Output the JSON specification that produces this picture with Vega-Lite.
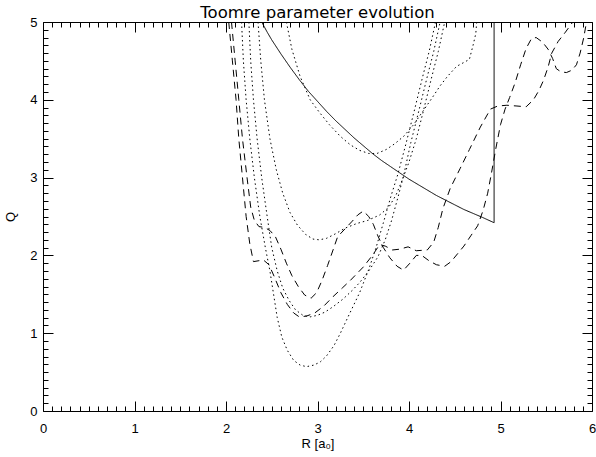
{
  "$schema": "https://vega.github.io/schema/vega-lite/v6.json",
  "width": 549,
  "height": 389,
  "autosize": {"type": "none"},
  "padding": {"left": 43, "top": 22, "right": 4, "bottom": 46},
  "background": "white",
  "title": {"text": "Toomre parameter evolution", "font": "DejaVu Sans", "fontSize": 16.5, "fontWeight": "normal", "color": "black", "anchor": "middle", "offset": -5},
  "config": {"view": {"stroke": null}},
  "data": {"values": [
    {"curve":"S","style":"solid","i":0,"x":2.39,"y":5.0},{"curve":"S","style":"solid","i":1,"x":2.45,"y":4.87},{"curve":"S","style":"solid","i":2,"x":2.5,"y":4.77},{"curve":"S","style":"solid","i":3,"x":2.6,"y":4.59},{"curve":"S","style":"solid","i":4,"x":2.7,"y":4.42},{"curve":"S","style":"solid","i":5,"x":2.8,"y":4.26},{"curve":"S","style":"solid","i":6,"x":2.9,"y":4.11},{"curve":"S","style":"solid","i":7,"x":3.0,"y":3.98},{"curve":"S","style":"solid","i":8,"x":3.1,"y":3.85},{"curve":"S","style":"solid","i":9,"x":3.2,"y":3.73},{"curve":"S","style":"solid","i":10,"x":3.3,"y":3.62},{"curve":"S","style":"solid","i":11,"x":3.4,"y":3.51},{"curve":"S","style":"solid","i":12,"x":3.5,"y":3.41},{"curve":"S","style":"solid","i":13,"x":3.6,"y":3.31},{"curve":"S","style":"solid","i":14,"x":3.7,"y":3.22},{"curve":"S","style":"solid","i":15,"x":3.8,"y":3.14},{"curve":"S","style":"solid","i":16,"x":3.9,"y":3.06},{"curve":"S","style":"solid","i":17,"x":4.0,"y":2.98},{"curve":"S","style":"solid","i":18,"x":4.1,"y":2.91},{"curve":"S","style":"solid","i":19,"x":4.2,"y":2.84},{"curve":"S","style":"solid","i":20,"x":4.3,"y":2.77},{"curve":"S","style":"solid","i":21,"x":4.4,"y":2.71},{"curve":"S","style":"solid","i":22,"x":4.5,"y":2.65},{"curve":"S","style":"solid","i":23,"x":4.6,"y":2.59},{"curve":"S","style":"solid","i":24,"x":4.7,"y":2.54},{"curve":"S","style":"solid","i":25,"x":4.8,"y":2.49},{"curve":"S","style":"solid","i":26,"x":4.93,"y":2.42},{"curve":"S","style":"solid","i":27,"x":4.93,"y":5.0},

    {"curve":"D1","style":"dotted","i":0,"x":2.17,"y":5.0},{"curve":"D1","style":"dotted","i":1,"x":2.19,"y":4.5},{"curve":"D1","style":"dotted","i":2,"x":2.22,"y":4.0},{"curve":"D1","style":"dotted","i":3,"x":2.26,"y":3.5},{"curve":"D1","style":"dotted","i":4,"x":2.31,"y":3.0},{"curve":"D1","style":"dotted","i":5,"x":2.37,"y":2.5},{"curve":"D1","style":"dotted","i":6,"x":2.43,"y":2.1},{"curve":"D1","style":"dotted","i":7,"x":2.48,"y":1.8},{"curve":"D1","style":"dotted","i":8,"x":2.52,"y":1.5},{"curve":"D1","style":"dotted","i":9,"x":2.56,"y":1.2},{"curve":"D1","style":"dotted","i":10,"x":2.61,"y":0.95},{"curve":"D1","style":"dotted","i":11,"x":2.67,"y":0.78},{"curve":"D1","style":"dotted","i":12,"x":2.74,"y":0.65},{"curve":"D1","style":"dotted","i":13,"x":2.81,"y":0.59},{"curve":"D1","style":"dotted","i":14,"x":2.88,"y":0.57},{"curve":"D1","style":"dotted","i":15,"x":2.96,"y":0.59},{"curve":"D1","style":"dotted","i":16,"x":3.03,"y":0.63},{"curve":"D1","style":"dotted","i":17,"x":3.1,"y":0.71},{"curve":"D1","style":"dotted","i":18,"x":3.18,"y":0.84},{"curve":"D1","style":"dotted","i":19,"x":3.25,"y":1.0},{"curve":"D1","style":"dotted","i":20,"x":3.35,"y":1.25},{"curve":"D1","style":"dotted","i":21,"x":3.46,"y":1.52},{"curve":"D1","style":"dotted","i":22,"x":3.56,"y":1.82},{"curve":"D1","style":"dotted","i":23,"x":3.64,"y":2.1},{"curve":"D1","style":"dotted","i":24,"x":3.72,"y":2.42},{"curve":"D1","style":"dotted","i":25,"x":3.8,"y":2.75},{"curve":"D1","style":"dotted","i":26,"x":3.88,"y":3.05},{"curve":"D1","style":"dotted","i":27,"x":3.97,"y":3.45},{"curve":"D1","style":"dotted","i":28,"x":4.06,"y":3.87},{"curve":"D1","style":"dotted","i":29,"x":4.15,"y":4.3},{"curve":"D1","style":"dotted","i":30,"x":4.22,"y":4.62},{"curve":"D1","style":"dotted","i":31,"x":4.29,"y":5.0},

    {"curve":"D4","style":"dotted","i":0,"x":2.25,"y":5.0},{"curve":"D4","style":"dotted","i":1,"x":2.27,"y":4.5},{"curve":"D4","style":"dotted","i":2,"x":2.3,"y":4.0},{"curve":"D4","style":"dotted","i":3,"x":2.34,"y":3.5},{"curve":"D4","style":"dotted","i":4,"x":2.39,"y":3.0},{"curve":"D4","style":"dotted","i":5,"x":2.45,"y":2.5},{"curve":"D4","style":"dotted","i":6,"x":2.5,"y":2.1},{"curve":"D4","style":"dotted","i":7,"x":2.56,"y":1.8},{"curve":"D4","style":"dotted","i":8,"x":2.62,"y":1.58},{"curve":"D4","style":"dotted","i":9,"x":2.69,"y":1.42},{"curve":"D4","style":"dotted","i":10,"x":2.76,"y":1.3},{"curve":"D4","style":"dotted","i":11,"x":2.84,"y":1.23},{"curve":"D4","style":"dotted","i":12,"x":2.92,"y":1.21},{"curve":"D4","style":"dotted","i":13,"x":3.0,"y":1.23},{"curve":"D4","style":"dotted","i":14,"x":3.08,"y":1.27},{"curve":"D4","style":"dotted","i":15,"x":3.17,"y":1.34},{"curve":"D4","style":"dotted","i":16,"x":3.28,"y":1.44},{"curve":"D4","style":"dotted","i":17,"x":3.38,"y":1.55},{"curve":"D4","style":"dotted","i":18,"x":3.46,"y":1.65},{"curve":"D4","style":"dotted","i":19,"x":3.56,"y":1.8},{"curve":"D4","style":"dotted","i":20,"x":3.66,"y":1.98},{"curve":"D4","style":"dotted","i":21,"x":3.74,"y":2.2},{"curve":"D4","style":"dotted","i":22,"x":3.81,"y":2.45},{"curve":"D4","style":"dotted","i":23,"x":3.88,"y":2.75},{"curve":"D4","style":"dotted","i":24,"x":3.94,"y":3.02},{"curve":"D4","style":"dotted","i":25,"x":4.02,"y":3.45},{"curve":"D4","style":"dotted","i":26,"x":4.11,"y":3.87},{"curve":"D4","style":"dotted","i":27,"x":4.2,"y":4.3},{"curve":"D4","style":"dotted","i":28,"x":4.27,"y":4.62},{"curve":"D4","style":"dotted","i":29,"x":4.34,"y":5.0},

    {"curve":"D2","style":"dotted","i":0,"x":2.35,"y":5.0},{"curve":"D2","style":"dotted","i":1,"x":2.38,"y":4.5},{"curve":"D2","style":"dotted","i":2,"x":2.42,"y":4.0},{"curve":"D2","style":"dotted","i":3,"x":2.48,"y":3.5},{"curve":"D2","style":"dotted","i":4,"x":2.55,"y":3.1},{"curve":"D2","style":"dotted","i":5,"x":2.62,"y":2.8},{"curve":"D2","style":"dotted","i":6,"x":2.7,"y":2.55},{"curve":"D2","style":"dotted","i":7,"x":2.78,"y":2.39},{"curve":"D2","style":"dotted","i":8,"x":2.87,"y":2.27},{"curve":"D2","style":"dotted","i":9,"x":2.95,"y":2.21},{"curve":"D2","style":"dotted","i":10,"x":3.02,"y":2.2},{"curve":"D2","style":"dotted","i":11,"x":3.1,"y":2.22},{"curve":"D2","style":"dotted","i":12,"x":3.2,"y":2.28},{"curve":"D2","style":"dotted","i":13,"x":3.3,"y":2.35},{"curve":"D2","style":"dotted","i":14,"x":3.43,"y":2.41},{"curve":"D2","style":"dotted","i":15,"x":3.55,"y":2.45},{"curve":"D2","style":"dotted","i":16,"x":3.68,"y":2.52},{"curve":"D2","style":"dotted","i":17,"x":3.78,"y":2.62},{"curve":"D2","style":"dotted","i":18,"x":3.86,"y":2.78},{"curve":"D2","style":"dotted","i":19,"x":3.93,"y":2.98},{"curve":"D2","style":"dotted","i":20,"x":4.0,"y":3.2},{"curve":"D2","style":"dotted","i":21,"x":4.08,"y":3.5},{"curve":"D2","style":"dotted","i":22,"x":4.16,"y":3.87},{"curve":"D2","style":"dotted","i":23,"x":4.25,"y":4.3},{"curve":"D2","style":"dotted","i":24,"x":4.32,"y":4.62},{"curve":"D2","style":"dotted","i":25,"x":4.39,"y":5.0},

    {"curve":"D3","style":"dotted","i":0,"x":2.66,"y":5.0},{"curve":"D3","style":"dotted","i":1,"x":2.72,"y":4.65},{"curve":"D3","style":"dotted","i":2,"x":2.81,"y":4.3},{"curve":"D3","style":"dotted","i":3,"x":2.92,"y":4.0},{"curve":"D3","style":"dotted","i":4,"x":3.02,"y":3.84},{"curve":"D3","style":"dotted","i":5,"x":3.13,"y":3.68},{"curve":"D3","style":"dotted","i":6,"x":3.25,"y":3.53},{"curve":"D3","style":"dotted","i":7,"x":3.36,"y":3.42},{"curve":"D3","style":"dotted","i":8,"x":3.46,"y":3.35},{"curve":"D3","style":"dotted","i":9,"x":3.56,"y":3.31},{"curve":"D3","style":"dotted","i":10,"x":3.65,"y":3.31},{"curve":"D3","style":"dotted","i":11,"x":3.75,"y":3.36},{"curve":"D3","style":"dotted","i":12,"x":3.85,"y":3.44},{"curve":"D3","style":"dotted","i":13,"x":3.95,"y":3.54},{"curve":"D3","style":"dotted","i":14,"x":4.05,"y":3.68},{"curve":"D3","style":"dotted","i":15,"x":4.15,"y":3.85},{"curve":"D3","style":"dotted","i":16,"x":4.25,"y":4.02},{"curve":"D3","style":"dotted","i":17,"x":4.34,"y":4.18},{"curve":"D3","style":"dotted","i":18,"x":4.42,"y":4.3},{"curve":"D3","style":"dotted","i":19,"x":4.52,"y":4.43},{"curve":"D3","style":"dotted","i":20,"x":4.6,"y":4.48},{"curve":"D3","style":"dotted","i":21,"x":4.66,"y":4.52},{"curve":"D3","style":"dotted","i":22,"x":4.7,"y":4.7},{"curve":"D3","style":"dotted","i":23,"x":4.73,"y":4.85},{"curve":"D3","style":"dotted","i":24,"x":4.74,"y":5.0},

    {"curve":"E1","style":"dashed","i":0,"x":2.03,"y":5.0},{"curve":"E1","style":"dashed","i":1,"x":2.07,"y":4.5},{"curve":"E1","style":"dashed","i":2,"x":2.11,"y":4.0},{"curve":"E1","style":"dashed","i":3,"x":2.14,"y":3.5},{"curve":"E1","style":"dashed","i":4,"x":2.18,"y":3.0},{"curve":"E1","style":"dashed","i":5,"x":2.22,"y":2.5},{"curve":"E1","style":"dashed","i":6,"x":2.26,"y":2.15},{"curve":"E1","style":"dashed","i":7,"x":2.3,"y":1.92},{"curve":"E1","style":"dashed","i":8,"x":2.35,"y":1.93},{"curve":"E1","style":"dashed","i":9,"x":2.41,"y":1.94},{"curve":"E1","style":"dashed","i":10,"x":2.47,"y":1.88},{"curve":"E1","style":"dashed","i":11,"x":2.53,"y":1.72},{"curve":"E1","style":"dashed","i":12,"x":2.6,"y":1.52},{"curve":"E1","style":"dashed","i":13,"x":2.67,"y":1.37},{"curve":"E1","style":"dashed","i":14,"x":2.74,"y":1.26},{"curve":"E1","style":"dashed","i":15,"x":2.8,"y":1.21},{"curve":"E1","style":"dashed","i":16,"x":2.88,"y":1.22},{"curve":"E1","style":"dashed","i":17,"x":2.97,"y":1.26},{"curve":"E1","style":"dashed","i":18,"x":3.07,"y":1.35},{"curve":"E1","style":"dashed","i":19,"x":3.17,"y":1.47},{"curve":"E1","style":"dashed","i":20,"x":3.27,"y":1.58},{"curve":"E1","style":"dashed","i":21,"x":3.36,"y":1.68},{"curve":"E1","style":"dashed","i":22,"x":3.5,"y":1.85},{"curve":"E1","style":"dashed","i":23,"x":3.6,"y":2.0},{"curve":"E1","style":"dashed","i":24,"x":3.68,"y":2.14},{"curve":"E1","style":"dashed","i":25,"x":3.74,"y":2.12},{"curve":"E1","style":"dashed","i":26,"x":3.82,"y":2.07},{"curve":"E1","style":"dashed","i":27,"x":3.9,"y":2.08},{"curve":"E1","style":"dashed","i":28,"x":3.99,"y":2.11},{"curve":"E1","style":"dashed","i":29,"x":4.08,"y":2.06},{"curve":"E1","style":"dashed","i":30,"x":4.2,"y":2.07},{"curve":"E1","style":"dashed","i":31,"x":4.27,"y":2.17},{"curve":"E1","style":"dashed","i":32,"x":4.32,"y":2.36},{"curve":"E1","style":"dashed","i":33,"x":4.37,"y":2.6},{"curve":"E1","style":"dashed","i":34,"x":4.45,"y":2.86},{"curve":"E1","style":"dashed","i":35,"x":4.56,"y":3.12},{"curve":"E1","style":"dashed","i":36,"x":4.66,"y":3.36},{"curve":"E1","style":"dashed","i":37,"x":4.78,"y":3.65},{"curve":"E1","style":"dashed","i":38,"x":4.89,"y":3.88},{"curve":"E1","style":"dashed","i":39,"x":4.97,"y":3.92},{"curve":"E1","style":"dashed","i":40,"x":5.07,"y":3.93},{"curve":"E1","style":"dashed","i":41,"x":5.18,"y":3.92},{"curve":"E1","style":"dashed","i":42,"x":5.28,"y":3.91},{"curve":"E1","style":"dashed","i":43,"x":5.36,"y":4.0},{"curve":"E1","style":"dashed","i":44,"x":5.42,"y":4.12},{"curve":"E1","style":"dashed","i":45,"x":5.47,"y":4.25},{"curve":"E1","style":"dashed","i":46,"x":5.52,"y":4.42},{"curve":"E1","style":"dashed","i":47,"x":5.56,"y":4.6},{"curve":"E1","style":"dashed","i":48,"x":5.63,"y":4.75},{"curve":"E1","style":"dashed","i":49,"x":5.71,"y":4.87},{"curve":"E1","style":"dashed","i":50,"x":5.79,"y":5.0},

    {"curve":"E2","style":"dashed","i":0,"x":2.06,"y":5.0},{"curve":"E2","style":"dashed","i":1,"x":2.1,"y":4.5},{"curve":"E2","style":"dashed","i":2,"x":2.14,"y":4.0},{"curve":"E2","style":"dashed","i":3,"x":2.18,"y":3.5},{"curve":"E2","style":"dashed","i":4,"x":2.23,"y":3.0},{"curve":"E2","style":"dashed","i":5,"x":2.27,"y":2.62},{"curve":"E2","style":"dashed","i":6,"x":2.31,"y":2.45},{"curve":"E2","style":"dashed","i":7,"x":2.36,"y":2.37},{"curve":"E2","style":"dashed","i":8,"x":2.42,"y":2.36},{"curve":"E2","style":"dashed","i":9,"x":2.48,"y":2.32},{"curve":"E2","style":"dashed","i":10,"x":2.54,"y":2.24},{"curve":"E2","style":"dashed","i":11,"x":2.6,"y":2.08},{"curve":"E2","style":"dashed","i":12,"x":2.66,"y":1.9},{"curve":"E2","style":"dashed","i":13,"x":2.72,"y":1.74},{"curve":"E2","style":"dashed","i":14,"x":2.79,"y":1.6},{"curve":"E2","style":"dashed","i":15,"x":2.86,"y":1.49},{"curve":"E2","style":"dashed","i":16,"x":2.93,"y":1.45},{"curve":"E2","style":"dashed","i":17,"x":2.99,"y":1.52},{"curve":"E2","style":"dashed","i":18,"x":3.05,"y":1.68},{"curve":"E2","style":"dashed","i":19,"x":3.11,"y":1.87},{"curve":"E2","style":"dashed","i":20,"x":3.17,"y":2.07},{"curve":"E2","style":"dashed","i":21,"x":3.22,"y":2.24},{"curve":"E2","style":"dashed","i":22,"x":3.3,"y":2.34},{"curve":"E2","style":"dashed","i":23,"x":3.38,"y":2.44},{"curve":"E2","style":"dashed","i":24,"x":3.44,"y":2.52},{"curve":"E2","style":"dashed","i":25,"x":3.5,"y":2.57},{"curve":"E2","style":"dashed","i":26,"x":3.56,"y":2.5},{"curve":"E2","style":"dashed","i":27,"x":3.61,"y":2.4},{"curve":"E2","style":"dashed","i":28,"x":3.66,"y":2.25},{"curve":"E2","style":"dashed","i":29,"x":3.72,"y":2.1},{"curve":"E2","style":"dashed","i":30,"x":3.79,"y":1.97},{"curve":"E2","style":"dashed","i":31,"x":3.87,"y":1.86},{"curve":"E2","style":"dashed","i":32,"x":3.94,"y":1.81},{"curve":"E2","style":"dashed","i":33,"x":4.01,"y":1.9},{"curve":"E2","style":"dashed","i":34,"x":4.08,"y":2.0},{"curve":"E2","style":"dashed","i":35,"x":4.14,"y":2.0},{"curve":"E2","style":"dashed","i":36,"x":4.22,"y":1.93},{"curve":"E2","style":"dashed","i":37,"x":4.3,"y":1.88},{"curve":"E2","style":"dashed","i":38,"x":4.39,"y":1.86},{"curve":"E2","style":"dashed","i":39,"x":4.46,"y":1.92},{"curve":"E2","style":"dashed","i":40,"x":4.53,"y":2.02},{"curve":"E2","style":"dashed","i":41,"x":4.6,"y":2.12},{"curve":"E2","style":"dashed","i":42,"x":4.68,"y":2.26},{"curve":"E2","style":"dashed","i":43,"x":4.75,"y":2.38},{"curve":"E2","style":"dashed","i":44,"x":4.81,"y":2.58},{"curve":"E2","style":"dashed","i":45,"x":4.86,"y":2.8},{"curve":"E2","style":"dashed","i":46,"x":4.9,"y":3.05},{"curve":"E2","style":"dashed","i":47,"x":4.95,"y":3.38},{"curve":"E2","style":"dashed","i":48,"x":5.0,"y":3.68},{"curve":"E2","style":"dashed","i":49,"x":5.05,"y":3.88},{"curve":"E2","style":"dashed","i":50,"x":5.1,"y":4.03},{"curve":"E2","style":"dashed","i":51,"x":5.16,"y":4.22},{"curve":"E2","style":"dashed","i":52,"x":5.22,"y":4.45},{"curve":"E2","style":"dashed","i":53,"x":5.28,"y":4.66},{"curve":"E2","style":"dashed","i":54,"x":5.34,"y":4.79},{"curve":"E2","style":"dashed","i":55,"x":5.39,"y":4.8},{"curve":"E2","style":"dashed","i":56,"x":5.46,"y":4.74},{"curve":"E2","style":"dashed","i":57,"x":5.52,"y":4.65},{"curve":"E2","style":"dashed","i":58,"x":5.57,"y":4.53},{"curve":"E2","style":"dashed","i":59,"x":5.61,"y":4.4},{"curve":"E2","style":"dashed","i":60,"x":5.66,"y":4.36},{"curve":"E2","style":"dashed","i":61,"x":5.72,"y":4.35},{"curve":"E2","style":"dashed","i":62,"x":5.78,"y":4.38},{"curve":"E2","style":"dashed","i":63,"x":5.83,"y":4.45},{"curve":"E2","style":"dashed","i":64,"x":5.87,"y":4.6},{"curve":"E2","style":"dashed","i":65,"x":5.91,"y":4.8},{"curve":"E2","style":"dashed","i":66,"x":5.94,"y":5.0}
  ]},
  "layer": [
    {
      "mark": {"type": "line", "clip": true, "strokeWidth": 1, "color": "black"},
      "encoding": {
        "x": {"field": "x", "type": "quantitative", "scale": {"domain": [0, 6], "nice": false, "zero": false},
          "axis": {"orient": "bottom", "grid": false,
            "values": [0,0.1,0.2,0.3,0.4,0.5,0.6,0.7,0.8,0.9,1,1.1,1.2,1.3,1.4,1.5,1.6,1.7,1.8,1.9,2,2.1,2.2,2.3,2.4,2.5,2.6,2.7,2.8,2.9,3,3.1,3.2,3.3,3.4,3.5,3.6,3.7,3.8,3.9,4,4.1,4.2,4.3,4.4,4.5,4.6,4.7,4.8,4.9,5,5.1,5.2,5.3,5.4,5.5,5.6,5.7,5.8,5.9,6],
            "tickSize": {"condition": {"test": "abs(datum.value - round(datum.value)) < 0.001", "value": -10}, "value": -5},
            "labelExpr": "abs(datum.value - round(datum.value)) < 0.001 ? format(datum.value, 'd') : ''",
            "labelOverlap": false, "labelFlush": false, "labelPadding": 21,
            "labelFont": "Liberation Sans", "labelFontSize": 13, "labelColor": "black",
            "domainColor": "black", "tickColor": "black",
            "title": "R [a₀]", "titleFont": "Liberation Sans", "titleFontSize": 13, "titleFontWeight": "normal", "titleColor": "black", "titlePadding": -3}},
        "y": {"field": "y", "type": "quantitative", "scale": {"domain": [0, 5], "nice": false, "zero": false},
          "axis": {"orient": "left", "grid": false,
            "values": [0,0.1,0.2,0.3,0.4,0.5,0.6,0.7,0.8,0.9,1,1.1,1.2,1.3,1.4,1.5,1.6,1.7,1.8,1.9,2,2.1,2.2,2.3,2.4,2.5,2.6,2.7,2.8,2.9,3,3.1,3.2,3.3,3.4,3.5,3.6,3.7,3.8,3.9,4,4.1,4.2,4.3,4.4,4.5,4.6,4.7,4.8,4.9,5],
            "tickSize": {"condition": {"test": "abs(datum.value - round(datum.value)) < 0.001", "value": -10}, "value": -5},
            "labelExpr": "abs(datum.value - round(datum.value)) < 0.001 ? format(datum.value, 'd') : ''",
            "labelOverlap": false, "labelFlush": false, "labelPadding": 16,
            "labelFont": "Liberation Sans", "labelFontSize": 13, "labelColor": "black",
            "domainColor": "black", "tickColor": "black",
            "title": "Q", "titleFont": "Liberation Sans", "titleFontSize": 13, "titleFontWeight": "normal", "titleColor": "black", "titlePadding": 12}},
        "detail": {"field": "curve"},
        "order": {"field": "i", "type": "quantitative"},
        "strokeDash": {"field": "style", "type": "nominal", "scale": {"domain": ["solid", "dotted", "dashed"], "range": [[1, 0], [1.5, 3], [7, 5]]}, "legend": null}
      }
    },
    {
      "mark": {"type": "line", "opacity": 0},
      "encoding": {
        "x": {"field": "x", "type": "quantitative",
          "axis": {"orient": "top", "grid": false, "labels": false, "title": null,
            "values": [0,0.1,0.2,0.3,0.4,0.5,0.6,0.7,0.8,0.9,1,1.1,1.2,1.3,1.4,1.5,1.6,1.7,1.8,1.9,2,2.1,2.2,2.3,2.4,2.5,2.6,2.7,2.8,2.9,3,3.1,3.2,3.3,3.4,3.5,3.6,3.7,3.8,3.9,4,4.1,4.2,4.3,4.4,4.5,4.6,4.7,4.8,4.9,5,5.1,5.2,5.3,5.4,5.5,5.6,5.7,5.8,5.9,6],
            "tickSize": {"condition": {"test": "abs(datum.value - round(datum.value)) < 0.001", "value": -10}, "value": -5},
            "domainColor": "black", "tickColor": "black"}},
        "y": {"field": "y", "type": "quantitative",
          "axis": {"orient": "right", "grid": false, "labels": false, "title": null,
            "values": [0,0.1,0.2,0.3,0.4,0.5,0.6,0.7,0.8,0.9,1,1.1,1.2,1.3,1.4,1.5,1.6,1.7,1.8,1.9,2,2.1,2.2,2.3,2.4,2.5,2.6,2.7,2.8,2.9,3,3.1,3.2,3.3,3.4,3.5,3.6,3.7,3.8,3.9,4,4.1,4.2,4.3,4.4,4.5,4.6,4.7,4.8,4.9,5],
            "tickSize": {"condition": {"test": "abs(datum.value - round(datum.value)) < 0.001", "value": -10}, "value": -5},
            "domainColor": "black", "tickColor": "black"}},
        "detail": {"field": "curve"},
        "order": {"field": "i", "type": "quantitative"}
      }
    }
  ],
  "resolve": {"axis": {"x": "independent", "y": "independent"}}
}
